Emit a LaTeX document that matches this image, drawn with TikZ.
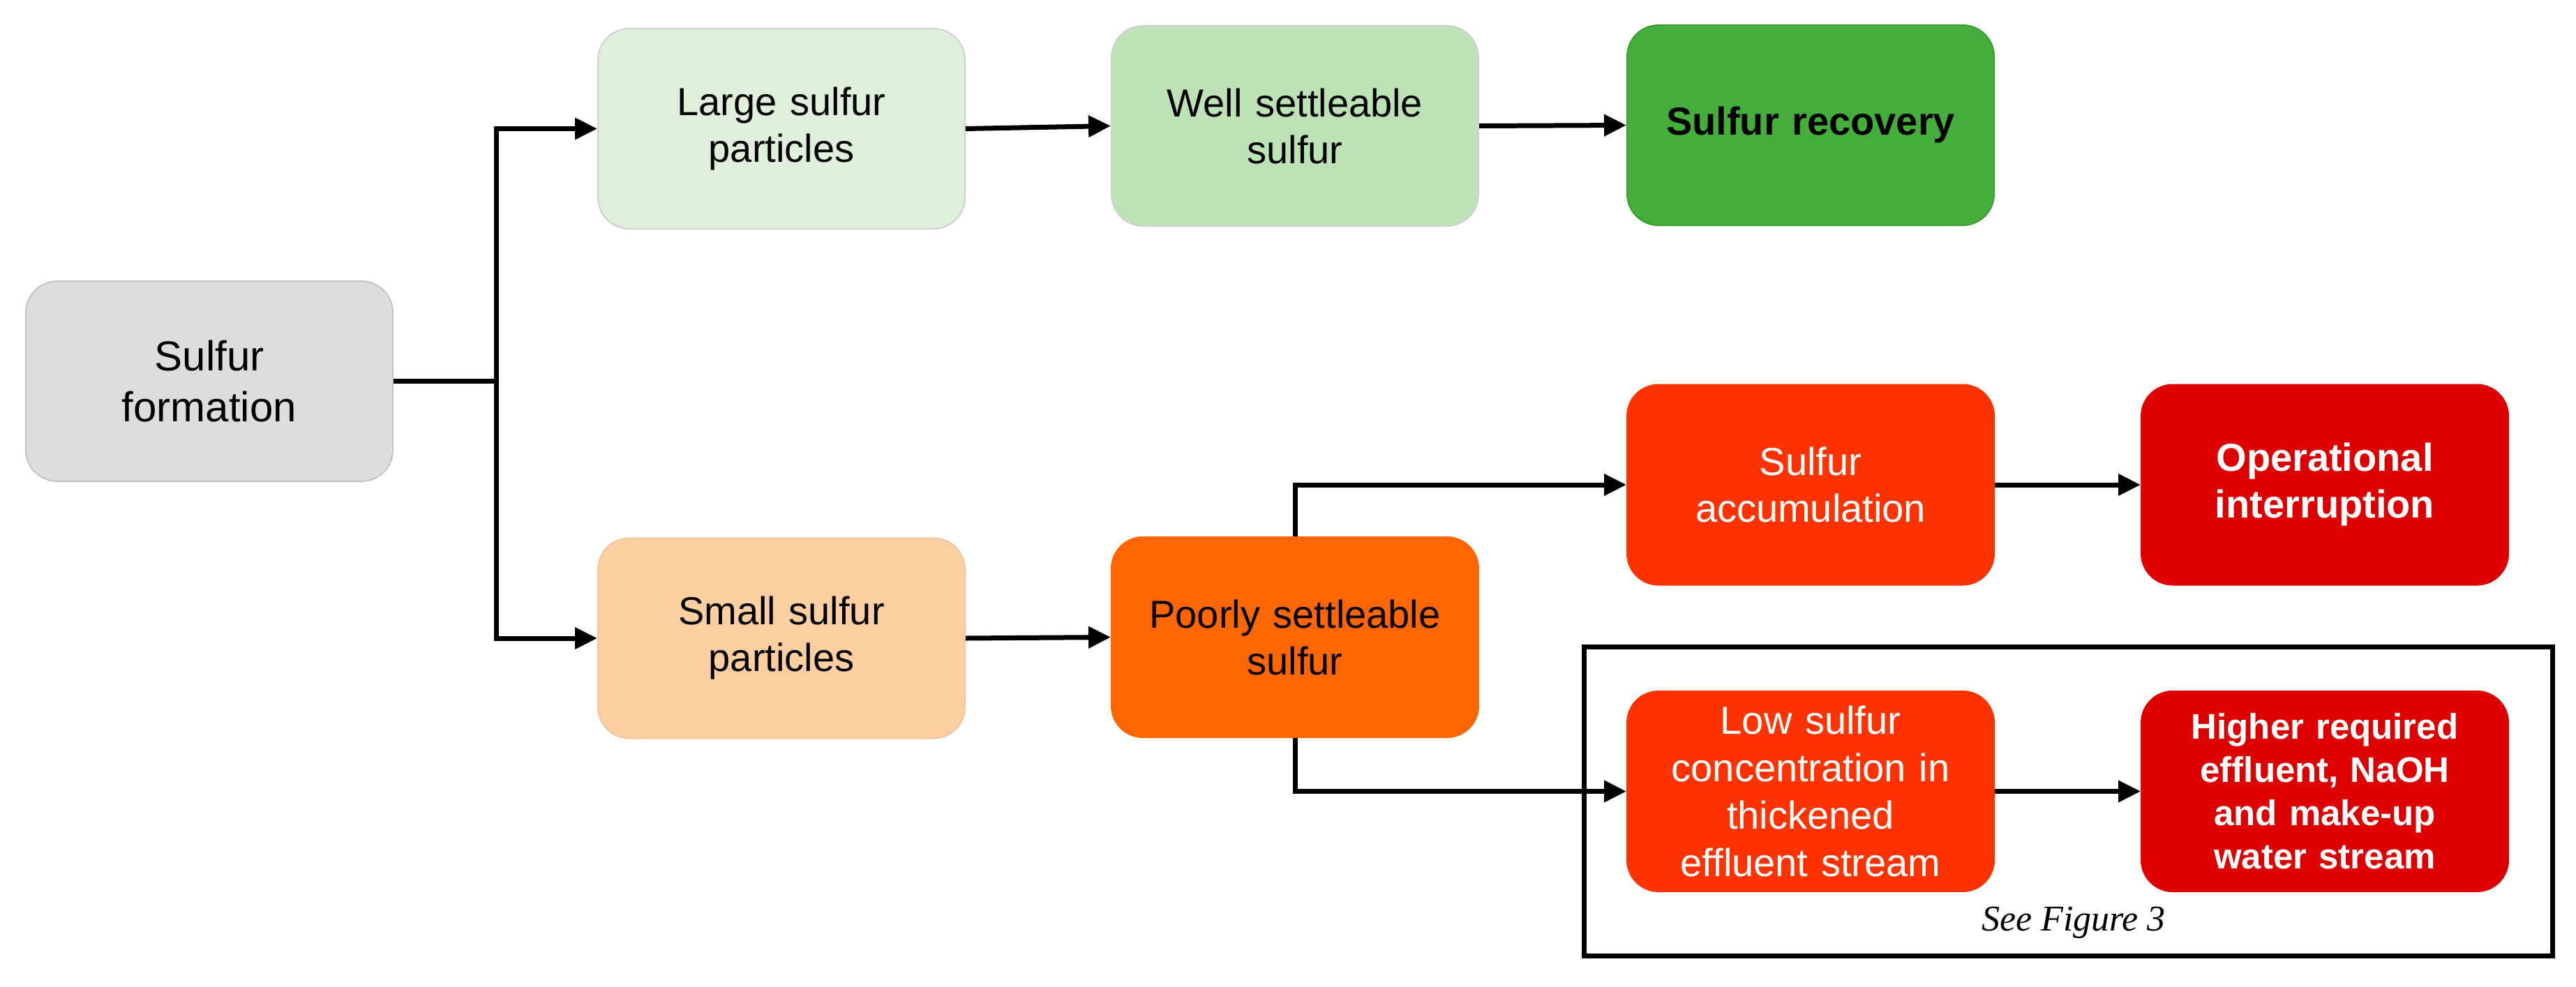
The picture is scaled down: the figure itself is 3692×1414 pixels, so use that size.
\documentclass[tikz,border=0pt]{standalone}
\usepackage{fontspec}
\setmainfont{Liberation Sans}
\newfontfamily\seefont{Liberation Serif}
\usetikzlibrary{arrows.meta}
\definecolor{sfgray}{RGB}{221,221,221}
\definecolor{sfedge}{RGB}{196,196,196}
\definecolor{grA}{RGB}{222,240,218}
\definecolor{grB}{RGB}{188,226,182}
\definecolor{grC}{RGB}{67,174,58}
\definecolor{peach}{RGB}{252,206,160}
\definecolor{orng}{RGB}{255,102,0}
\definecolor{redor}{RGB}{255,51,0}
\definecolor{deepred}{RGB}{221,0,0}
\begin{document}
\begin{tikzpicture}[x=1pt,y=-1pt,
  box/.style={rounded corners=45pt, minimum width=526pt, minimum height=287pt,
    inner sep=0pt, align=center, text width=510pt,
    font=\fontsize{56}{67}\selectfont, line width=2pt},
  conn/.style={line width=7pt, -{Triangle[length=32pt,width=30pt]}},
  plainline/.style={line width=7pt}]
\useasboundingbox (0,0) rectangle (3692,1414);

\node[box, fill=sfgray, draw=sfedge, font=\fontsize{60}{73}\selectfont] (sf) at (300,546.5) {Sulfur\\formation};
\node[box, fill=grA, draw=sfedge!80] (large) at (1120,184.5) {Large sulfur\\particles};
\node[box, fill=grB, draw=sfedge!80] (well) at (1856,180.5) {Well settleable\\sulfur};
\node[box, fill=grC, draw=grC!90!black, font=\bfseries\fontsize{56}{67}\selectfont] (rec) at (2595,179.5) {Sulfur recovery};
\node[box, fill=peach, draw=peach!90!gray] (small) at (1120,915) {Small sulfur\\particles};
\node[box, fill=orng, draw=orng] (poorly) at (1856,913.5) {Poorly settleable\\sulfur};
\node[box, fill=redor, draw=redor, text=white] (accum) at (2595,695) {Sulfur\\accumulation};
\node[box, fill=deepred, draw=deepred, text=white, font=\bfseries\fontsize{56}{67}\selectfont] (oper) at (3332,695) {Operational\\interruption};
\node[box, fill=redor, draw=redor, text=white, font=\fontsize{56}{68}\selectfont] (low) at (2595,1134.5) {Low sulfur\\concentration in\\thickened\\effluent stream};
\node[box, fill=deepred, draw=deepred, text=white, font=\bfseries\fontsize{51}{62}\selectfont] (higher) at (3332,1134.5) {Higher required\\effluent, NaOH\\and make-up\\water stream};

\node[draw, line width=7pt, minimum width=1388pt, minimum height=443pt, inner sep=0pt] (frame) at (2964,1148.5) {};
\node[anchor=base, inner sep=0pt, font=\seefont\itshape\fontsize{52}{60}\selectfont] (see) at (2972,1334) {See Figure 3};

\coordinate (j) at (711,546.5);
\draw[plainline] (sf.east) -- (j);
\draw[conn] (j) |- (large.west);
\draw[conn] (j) |- (small.west);
\draw[conn] (large.east) -- (well.west);
\draw[conn] (well.east) -- (rec.west);
\draw[conn] (small.east) -- (poorly.west);
\draw[conn] (poorly.north) |- (accum.west);
\draw[conn] (poorly.south) |- (low.west);
\draw[conn] (accum.east) -- (oper.west);
\draw[conn] (low.east) -- (higher.west);
\end{tikzpicture}
\end{document}
